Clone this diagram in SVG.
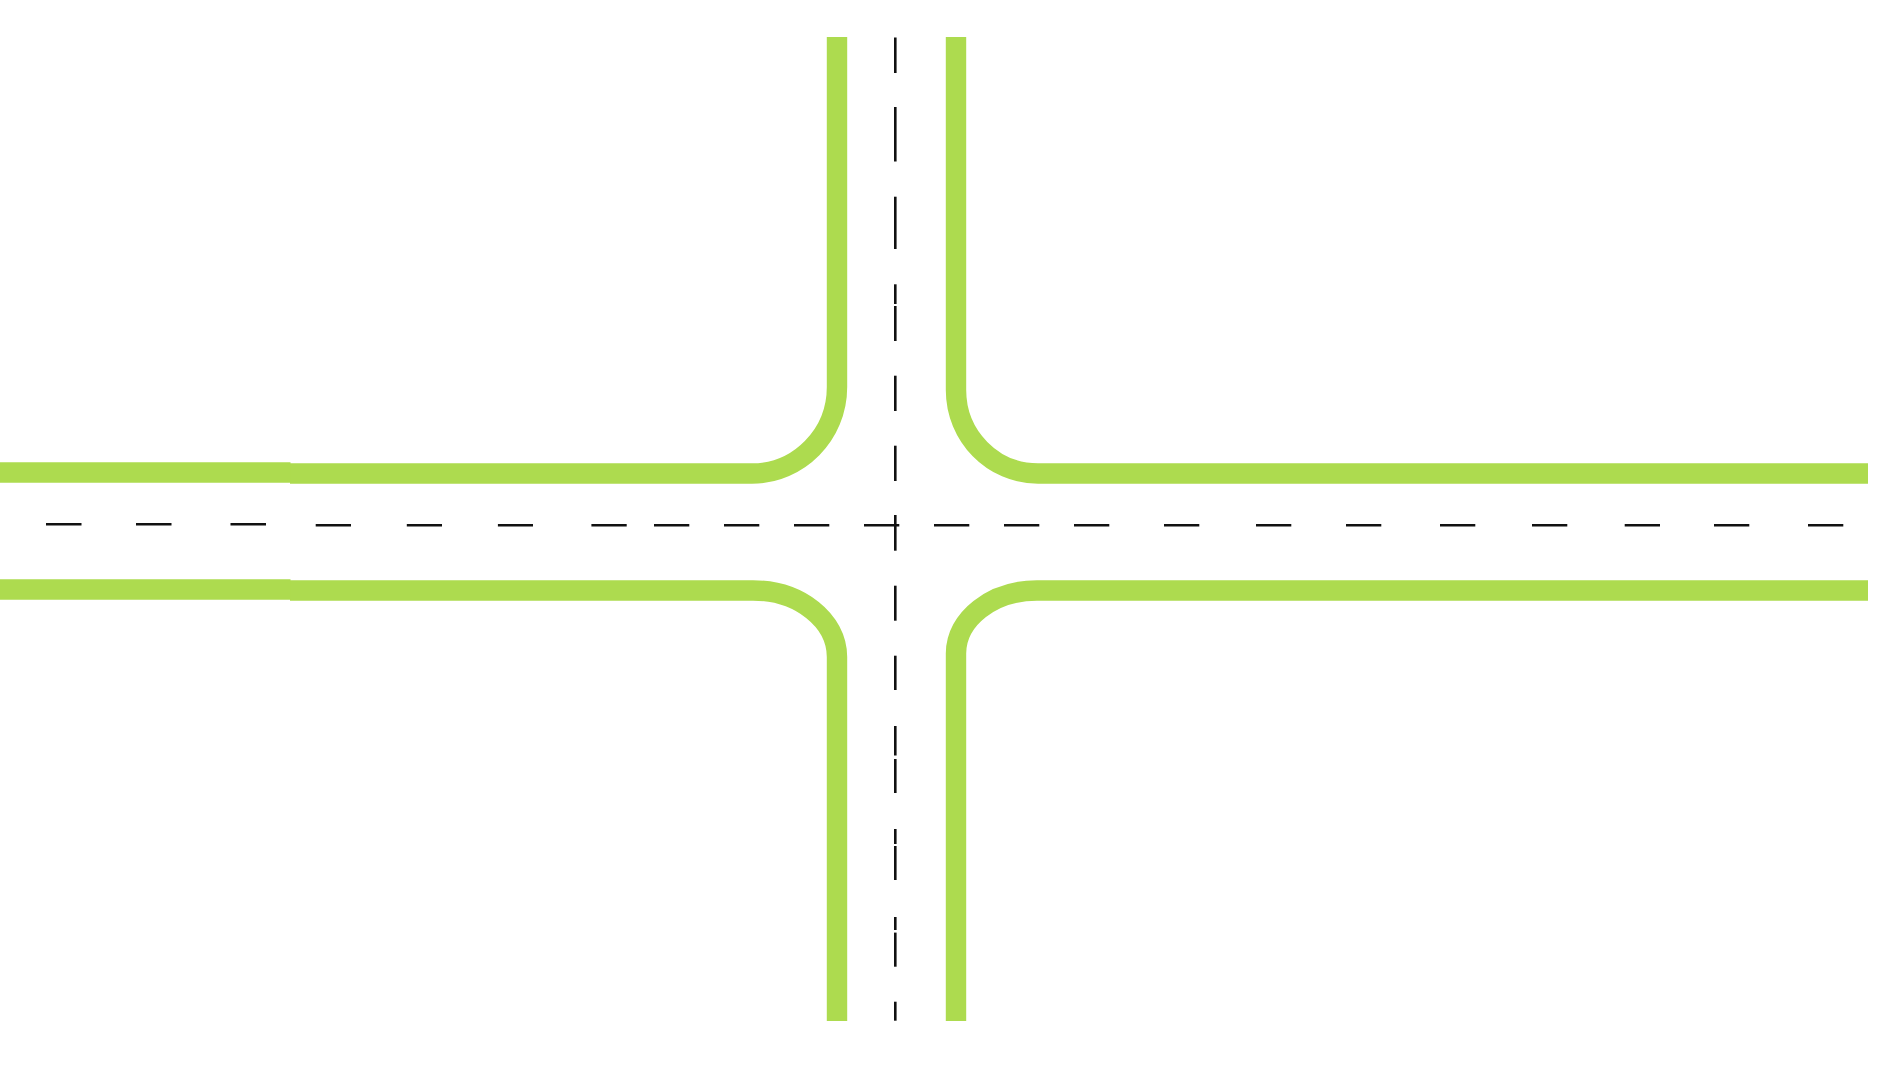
<svg xmlns="http://www.w3.org/2000/svg" width="1904" height="1073" viewBox="0 0 1904 1073">
<style>
.curb{fill:none;stroke:#addb4f;stroke-width:20.4;stroke-linecap:butt;stroke-linejoin:round}
.lane{stroke:#111;stroke-width:2.6;stroke-linecap:butt}
</style>
<rect width="1904" height="1073" fill="#fff"/>
<g id="curbs">
<path id="curb-top-left" class="curb" d="M837,37 V387 C837,434.8 798.9,473.5 752,473.5 H290"/>
<path id="curb-left-upper-end" class="curb" d="M0,472.5 H290.5"/>
<path id="curb-top-right" class="curb" d="M956,37 V390 C956,436.1 992.7,473.5 1038,473.5 H1868"/>
<path id="curb-bottom-left" class="curb" d="M290,590.5 H753 C799.4,590.5 837,620.3 837,657 V1021"/>
<path id="curb-left-lower-end" class="curb" d="M0,589.5 H290.5"/>
<path id="curb-bottom-right" class="curb" d="M1868,590.5 H1037 C992.3,590.5 956,618.7 956,653.5 V1021"/>
</g>
<g id="lane-markings">
<g id="horizontal-centerline">
<line class="lane" x1="46" y1="524.3" x2="81.5" y2="524.3"/>
<line class="lane" x1="136" y1="524.3" x2="171.5" y2="524.3"/>
<line class="lane" x1="230.5" y1="524.3" x2="266" y2="524.3"/>
<line class="lane" x1="315.7" y1="525.3" x2="351" y2="525.3"/>
<line class="lane" x1="406.8" y1="525.3" x2="442" y2="525.3"/>
<line class="lane" x1="497.9" y1="525.3" x2="533" y2="525.3"/>
<line class="lane" x1="591.4" y1="525.3" x2="626.7" y2="525.3"/>
<line class="lane" x1="654" y1="525.3" x2="689.3" y2="525.3"/>
<line class="lane" x1="724" y1="525.3" x2="759.3" y2="525.3"/>
<line class="lane" x1="794" y1="525.3" x2="829.3" y2="525.3"/>
<line class="lane" x1="864" y1="525.3" x2="899.3" y2="525.3"/>
<line class="lane" x1="934" y1="525.3" x2="969.3" y2="525.3"/>
<line class="lane" x1="1004" y1="525.3" x2="1039.3" y2="525.3"/>
<line class="lane" x1="1074" y1="525.3" x2="1109.3" y2="525.3"/>
<line class="lane" x1="1164" y1="525.3" x2="1199.3" y2="525.3"/>
<line class="lane" x1="1256" y1="525.3" x2="1291.3" y2="525.3"/>
<line class="lane" x1="1346" y1="525.3" x2="1381.3" y2="525.3"/>
<line class="lane" x1="1440" y1="525.3" x2="1475.3" y2="525.3"/>
<line class="lane" x1="1532" y1="525.3" x2="1567.3" y2="525.3"/>
<line class="lane" x1="1624.7" y1="525.3" x2="1660" y2="525.3"/>
<line class="lane" x1="1714" y1="525.3" x2="1749.3" y2="525.3"/>
<line class="lane" x1="1808" y1="525.3" x2="1843.3" y2="525.3"/>
</g>
<g id="vertical-centerline">
<line class="lane" x1="895.3" y1="37.5" x2="895.3" y2="73"/>
<line class="lane" x1="895.3" y1="107" x2="895.3" y2="161.5"/>
<line class="lane" x1="895.3" y1="196.7" x2="895.3" y2="249"/>
<line class="lane" x1="895.3" y1="284.3" x2="895.3" y2="304"/>
<line class="lane" x1="895.3" y1="306" x2="895.3" y2="341"/>
<line class="lane" x1="895.3" y1="375.7" x2="895.3" y2="411"/>
<line class="lane" x1="895.3" y1="445.7" x2="895.3" y2="481"/>
<line class="lane" x1="895.3" y1="515" x2="895.3" y2="550.7"/>
<line class="lane" x1="895.3" y1="585.7" x2="895.3" y2="620.7"/>
<line class="lane" x1="895.3" y1="655.7" x2="895.3" y2="690"/>
<line class="lane" x1="895.3" y1="726" x2="895.3" y2="755.5"/>
<line class="lane" x1="895.3" y1="759" x2="895.3" y2="793"/>
<line class="lane" x1="895.3" y1="829" x2="895.3" y2="844"/>
<line class="lane" x1="895.3" y1="846" x2="895.3" y2="880"/>
<line class="lane" x1="895.3" y1="917" x2="895.3" y2="930"/>
<line class="lane" x1="895.3" y1="932.6" x2="895.3" y2="966.7"/>
<line class="lane" x1="895.3" y1="1001.7" x2="895.3" y2="1020.7"/>
</g>
</g>
</svg>
